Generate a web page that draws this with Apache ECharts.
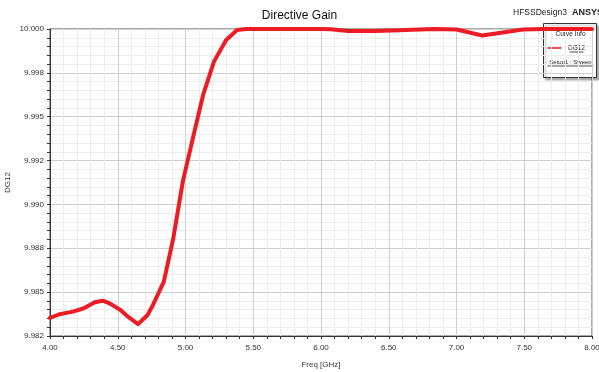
<!DOCTYPE html>
<html>
<head>
<meta charset="utf-8">
<script src="https://cdn.jsdelivr.net/npm/echarts@6/dist/echarts.min.js"></script>
<style>
  html, body { margin: 0; padding: 0; background: #fff; }
  #chart { width: 599px; height: 372px; }
</style>
</head>
<body>
<div id="chart"></div>
<script>
// Sweep frequencies (GHz) and directive gain DG12
const freqGHz = [4.00, 4.07, 4.17, 4.25, 4.33, 4.39, 4.44, 4.52, 4.58, 4.65, 4.72, 4.76, 4.80, 4.84, 4.91, 4.98, 5.06, 5.13, 5.21, 5.30, 5.38, 5.45, 5.60, 5.80, 6.00, 6.07, 6.20, 6.40, 6.58, 6.83, 7.00, 7.19, 7.49, 7.65, 7.80, 8.00];
const dg12    = [9.98353, 9.98374, 9.98389, 9.98408, 9.98442, 9.98451, 9.98436, 9.98398, 9.98357, 9.98318, 9.98370, 9.98427, 9.98493, 9.98560, 9.98807, 9.99130, 9.99396, 9.99624, 9.99814, 9.99937, 9.99994, 10.00000, 10.00000, 10.00000, 10.00000, 9.99998, 9.99989, 9.99988, 9.99993, 10.00000, 9.99997, 9.99963, 9.99997, 10.00000, 10.00000, 10.00000];

// Axis ticks
const yMin = 9.9825, yMax = 10.0, yStep = 0.0025;
const yTickLabels = ['9.982', '9.985', '9.988', '9.990', '9.992', '9.995', '9.998', '10.000'];
const xMin = 4, xMax = 8, xStep = 0.5;

const font = 'Liberation Sans, Arial, sans-serif';
const chart = echarts.init(document.getElementById('chart'), null, { renderer: 'canvas' });

chart.setOption({
  backgroundColor: '#ffffff',
  animation: false,
  title: {
    text: 'Directive Gain',
    left: 'center',
    top: 5,
    textStyle: { fontFamily: font, fontSize: 12, fontWeight: 'normal', color: '#111' }
  },
  grid: {
    left: 50, top: 29, width: 542, height: 307,
    containLabel: false, outerBoundsMode: 'none',
    show: true, borderColor: '#555', borderWidth: 1, backgroundColor: 'transparent'
  },
  xAxis: {
    type: 'value', min: xMin, max: xMax, interval: xStep,
    name: 'Freq [GHz]', nameLocation: 'middle', nameGap: 25,
    nameTextStyle: { fontFamily: font, fontSize: 8, color: '#333' },
    axisLine: { show: true, lineStyle: { color: '#333', width: 1 } },
    axisTick: { show: true, length: 3, lineStyle: { color: '#333' } },
    minorTick: { show: true, splitNumber: 5, length: 3, lineStyle: { color: '#333' } },
    splitLine: { show: true, lineStyle: { color: '#cfcfcf', width: 1 } },
    minorSplitLine: { show: true, lineStyle: { color: '#ececec', width: 1 } },
    axisLabel: {
      fontFamily: font, fontSize: 8, color: '#333', margin: 8,
      formatter: v => v.toFixed(2)
    }
  },
  yAxis: {
    type: 'value', min: yMin, max: yMax, interval: yStep,
    name: 'DG12', nameLocation: 'middle', nameGap: 38, nameRotate: 90,
    nameMoveOverlap: false,
    nameTextStyle: { fontFamily: font, fontSize: 8, color: '#333' },
    axisLine: { show: true, lineStyle: { color: '#333', width: 1 } },
    axisTick: { show: true, length: 3, lineStyle: { color: '#333' } },
    minorTick: { show: true, splitNumber: 5, length: 3, lineStyle: { color: '#333' } },
    splitLine: { show: true, lineStyle: { color: '#cfcfcf', width: 1 } },
    minorSplitLine: { show: true, lineStyle: { color: '#ececec', width: 1 } },
    axisLabel: {
      fontFamily: font, fontSize: 8, color: '#333', margin: 6,
      formatter: v => yTickLabels[Math.round((v - yMin) / yStep)] || ''
    }
  },
  series: [{
    name: 'DG12',
    type: 'line',
    data: freqGHz.map((f, i) => [f, dg12[i]]),
    showSymbol: false,
    smooth: false,
    clip: true,
    lineStyle: { color: '#ed1c24', width: 4, join: 'round', cap: 'round' },
    z: 3
  }],
  graphic: [
    {
      type: 'text', left: 513, top: 8, z: 10,
      style: { text: 'HFSSDesign3', font: '8.5px ' + font, fill: '#222' }
    },
    {
      type: 'text', left: 572, top: 8, z: 10,
      style: { text: 'ANSYS', font: 'bold 9px ' + font, fill: '#222' }
    },
    {
      type: 'group', left: 543, top: 23, z: 20,
      children: [
        {
          type: 'rect', shape: { x: 0, y: 0, width: 53, height: 54 },
          style: { fill: '#fff', stroke: '#333', lineWidth: 1,
                   shadowColor: 'rgba(0,0,0,0.3)', shadowOffsetX: 2, shadowOffsetY: 2, shadowBlur: 2 }
        },
        {
          type: 'text', x: 27, y: 11,
          style: { text: 'Curve Info', font: '6.5px ' + font, fill: '#222', align: 'center', verticalAlign: 'middle' }
        },
        {
          type: 'line', shape: { x1: 4, y1: 24.5, x2: 18, y2: 24.5 },
          style: { stroke: '#ed1c24', lineWidth: 1.5 }
        },
        {
          type: 'text', x: 33, y: 24.5,
          style: { text: 'DG12', font: '6.5px ' + font, fill: '#222', align: 'center', verticalAlign: 'middle' }
        },
        {
          type: 'line', shape: { x1: 26, y1: 28.5, x2: 40, y2: 28.5 },
          style: { stroke: '#222', lineWidth: 0.8 }
        },
        {
          type: 'text', x: 27, y: 38.5,
          style: { text: 'Setup1 : Sweep', font: '6px ' + font, fill: '#222', align: 'center', verticalAlign: 'middle' }
        },
        {
          type: 'line', shape: { x1: 4, y1: 42.5, x2: 50, y2: 42.5 },
          style: { stroke: '#222', lineWidth: 0.8 }
        }
      ]
    }
  ]
});
</script>
</body>
</html>
